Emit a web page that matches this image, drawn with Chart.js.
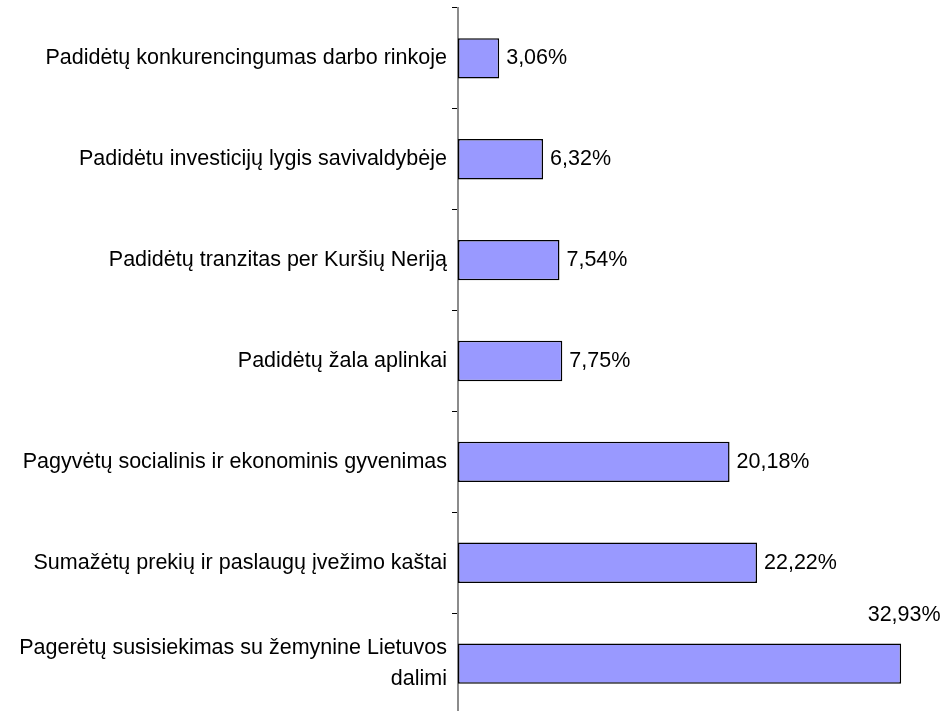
<!DOCTYPE html>
<html>
<head>
<meta charset="utf-8">
<script src="https://cdn.jsdelivr.net/npm/chart.js@4/dist/chart.umd.min.js"></script>
<style>
	html, body { margin: 0; padding: 0; background: #fff; overflow: hidden; }
	#wrap { width: 944px; height: 724px; }
</style>
</head>
<body>
<div id="wrap"><canvas id="BarChart" width="944" height="724"></canvas></div>
<script>
const categories = [
	"Padidėtų konkurencingumas darbo rinkoje",
	"Padidėtu investicijų lygis savivaldybėje",
	"Padidėtų tranzitas per Kuršių Neriją",
	"Padidėtų žala aplinkai",
	"Pagyvėtų socialinis ir ekonominis gyvenimas",
	"Sumažėtų prekių ir paslaugų įvežimo kaštai",
	["Pagerėtų susisiekimas su žemynine Lietuvos", "dalimi"],
];
const percent = [3.06, 6.32, 7.54, 7.75, 20.18, 22.22, 32.93];

// value labels next to the bars, moved above the bar when they do not fit
const valueLabels = {
	id: "valueLabels",
	afterDatasetsDraw(chart) {
		const ctx = chart.ctx;
		const meta = chart.getDatasetMeta(0);
		ctx.save();
		ctx.font = "21.5px 'Liberation Sans', Arial, sans-serif";
		ctx.fillStyle = "#000";
		meta.data.forEach((bar, i) => {
			const txt = percent[i].toFixed(2).replace(".", ",") + "%";
			const w = ctx.measureText(txt).width;
			if (bar.x + 7 + w > chart.width - 2) {
				ctx.textAlign = "center";
				ctx.textBaseline = "middle";
				ctx.fillText(txt, bar.x + 3, bar.y - bar.height / 2 - 28);
			} else {
				ctx.textAlign = "left";
				ctx.textBaseline = "middle";
				ctx.fillText(txt, bar.x + 7, bar.y);
			}
		});
		ctx.restore();
	},
};

const ctx1 = document.getElementById("BarChart");
const myChart1 = new Chart(ctx1, {
	type: "bar",
	data: {
		labels: categories,
		datasets: [
			{
				data: percent,
				backgroundColor: "#9999ff",
				borderColor: "#000",
				borderWidth: 1.5,
				borderSkipped: false,
				categoryPercentage: 1,
				barPercentage: 0.4,
			},
		],
	},
	options: {
		indexAxis: "y",
		responsive: false,
		animation: false,
		layout: {
			padding: { top: 8, bottom: 10, right: 15, left: 0 },
		},
		plugins: {
			legend: { display: false },
			tooltip: { enabled: false },
		},
		scales: {
			x: {
				display: false,
				min: 0,
				max: 35,
			},
			y: {
				afterFit(scale) {
					scale.width = 458;
					scale.paddingTop = 0;
					scale.paddingBottom = 0;
				},
				grid: {
					drawOnChartArea: false,
					drawTicks: true,
					tickLength: 6,
					color: "#000",
					offset: true,
				},
				border: {
					color: "#8c8c8c",
					width: 2,
				},
				ticks: {
					padding: 5,
					color: "#000",
					font: {
						family: "'Liberation Sans', Arial, sans-serif",
						size: 21.5,
						lineHeight: 1.45,
					},
				},
			},
		},
	},
	plugins: [valueLabels],
});
</script>
</body>
</html>
